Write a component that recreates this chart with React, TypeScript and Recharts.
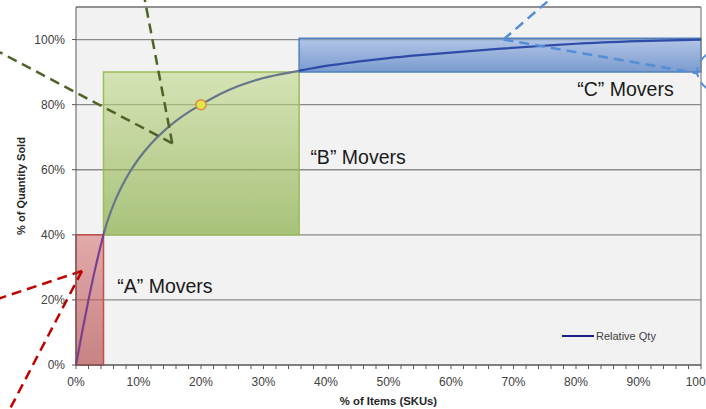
import React from "react";
import {
  ComposedChart,
  Line,
  XAxis,
  YAxis,
  CartesianGrid,
  ReferenceArea,
  ReferenceLine,
  ReferenceDot,
  Legend,
} from "recharts";

// ---- data -------------------------------------------------------------
const skuPct = [0, 1, 2, 3, 4, 4.4, 5, 6, 7, 8, 9, 10, 12, 14, 16, 18, 20, 23, 26, 30, 35.7, 40, 45, 50, 55, 60, 68, 75, 80, 90, 100];
const qtyPct = [0, 10.3, 20, 29, 37, 40, 44, 49.3, 53.6, 57.3, 60.5, 63.3, 68, 71.8, 75, 77.7, 80, 83.2, 85.7, 88.2, 90.4, 91.9, 93.2, 94.3, 95.2, 96, 97.2, 98.1, 98.7, 99.5, 100];

const xTicks = [0, 2, 4, 6, 8, 10, 12, 14, 16, 18, 20, 22, 24, 26, 28, 30, 32, 34, 36, 38, 40, 42, 44, 46, 48, 50, 52, 54, 56, 58, 60, 62, 64, 66, 68, 70, 72, 74, 76, 78, 80, 82, 84, 86, 88, 90, 92, 94, 96, 98, 100];
const yTicks = [0, 20, 40, 60, 80, 100];

const bandNames = ["A", "B", "C"];
const bandX1 = [0, 4.4, 35.7];
const bandX2 = [4.4, 35.7, 100];
const bandY1 = [0, 40, 90];
const bandY2 = [40, 90, 100.4];
const bandLabelX = [6.6, 37.5, 80.2];
const bandLabelY = [22.2, 61.9, 82.6];

const highlightX = 20;
const highlightY = 80;

// dashed callout lines (tip first, then the far end)
const calloutTipX = [15.4, 15.4, 0.96, 0.96, 68.4, 68.4];
const calloutTipY = [68.1, 68.1, 28.9, 28.9, 100.0, 100.0];
const calloutEndX = [-12.2, 11.0, -12.2, -10.6, 75.8, 99.4];
const calloutEndY = [96.1, 112.3, 20.5, -13.6, 112.3, 89.6];
const calloutColor = ["#4F6228", "#4F6228", "#C00000", "#C00000", "#558ED5", "#558ED5"];
const calloutOval = [false, false, false, false, false, true];

const seriesName = "Relative Qty";

const data = skuPct.map((x, i) => ({ sku: x, qty: qtyPct[i] }));

const FONT = "Arial, 'Liberation Sans', Helvetica, sans-serif";

const bandFill = ["url(#gA)", "url(#gB)", "url(#gC)"];
const bandStroke = ["#C0504D", "#9BBB59", "#4F81BD"];

const YLabel = (props: any) => {
  const vb = props.viewBox || {};
  const cx = 21;
  const cy = vb.y + vb.height / 2;
  return (
    <text
      x={cx}
      y={cy}
      transform={`rotate(-90 ${cx} ${cy})`}
      textAnchor="middle"
      dominantBaseline="central"
      fontFamily={FONT}
      fontSize={11}
      fontWeight="bold"
      fill="#262626"
    >
      % of Quantity Sold
    </text>
  );
};

const XLabel = (props: any) => {
  const vb = props.viewBox || {};
  const cx = vb.x + vb.width / 2;
  return (
    <text x={cx} y={405} textAnchor="middle" fontFamily={FONT} fontSize={11.3} fontWeight="bold" fill="#262626">
      % of Items (SKUs)
    </text>
  );
};

const LegendContent = () => (
  <div style={{ display: "flex", alignItems: "center", fontFamily: FONT, fontSize: 11, color: "#404040" }}>
    <span style={{ display: "inline-block", width: 32, height: 2, background: "#1F1F8A", marginRight: 2 }} />
    <span>{seriesName}</span>
  </div>
);

const makeCalloutShape = (color: string, oval: boolean) => (p: any) => (
  <g>
    <line
      x1={p.x1}
      y1={p.y1}
      x2={p.x2}
      y2={p.y2}
      stroke={color}
      strokeWidth={2.5}
      strokeDasharray="10 6"
      fill="none"
    />
    {oval ? (
      <ellipse
        cx={p.x2 + 46}
        cy={p.y2 - 2}
        rx={46}
        ry={28}
        fill="none"
        stroke={color}
        strokeWidth={2}
        strokeDasharray="10 6"
      />
    ) : null}
  </g>
);

export default function App() {
  return (
    <div style={{ position: "absolute", left: 0, top: 0, width: 706, height: 409, background: "#fff" }}>
      <ComposedChart width={706} height={409} data={data} margin={{ top: 7, right: 5, bottom: 0, left: 0 }}>
        <defs>
          <linearGradient id="gA" x1="0" y1="0" x2="0" y2="1">
            <stop offset="0%" stopColor="#D77A7A" />
            <stop offset="100%" stopColor="#AC3838" />
          </linearGradient>
          <linearGradient id="gB" x1="0" y1="0" x2="0" y2="1">
            <stop offset="0%" stopColor="#C2D98C" />
            <stop offset="100%" stopColor="#77A22A" />
          </linearGradient>
          <linearGradient id="gC" x1="0" y1="0" x2="0" y2="1">
            <stop offset="0%" stopColor="#89A8DE" />
            <stop offset="100%" stopColor="#2A61B8" />
          </linearGradient>
          <linearGradient id="lineGrad" x1="0" y1="0" x2="1" y2="0">
            <stop offset="0" stopColor="#7B3F8F" />
            <stop offset="0.044" stopColor="#7B3F8F" />
            <stop offset="0.044" stopColor="#66768A" />
            <stop offset="0.357" stopColor="#66768A" />
            <stop offset="0.357" stopColor="#2E4BA8" />
            <stop offset="1" stopColor="#2E4BA8" />
          </linearGradient>
        </defs>
        <CartesianGrid vertical={false} stroke="#8A8A8A" strokeWidth={1.3} fill="#F2F2F2" />
        <XAxis
          dataKey="sku"
          type="number"
          domain={[0, 100]}
          ticks={xTicks}
          interval={0}
          tickFormatter={(v: number) => (v % 10 === 0 ? `${v}%` : "")}
          tick={{ fontFamily: FONT, fontSize: 12, fill: "#404040" }}
          tickSize={4}
          tickMargin={8.5}
          stroke="#595959"
          height={44}
          label={<XLabel />}
        />
        <YAxis
          type="number"
          domain={[0, 110]}
          ticks={yTicks}
          interval={0}
          tickFormatter={(v: number) => `${v}%`}
          tick={{ fontFamily: FONT, fontSize: 12, fill: "#404040" }}
          tickSize={4}
          tickMargin={7}
          stroke="#595959"
          width={76}
          label={<YLabel />}
        />
        <ReferenceLine y={110} stroke="#8A8A8A" strokeWidth={1.3} />
        <ReferenceLine x={100} stroke="#8A8A8A" strokeWidth={1.3} />
        {bandNames.map((n, i) => (
          <ReferenceArea
            key={n}
            x1={bandX1[i]}
            x2={bandX2[i]}
            y1={bandY1[i]}
            y2={bandY2[i]}
            fill={bandFill[i]}
            fillOpacity={0.6}
            stroke={bandStroke[i]}
            strokeWidth={1.5}
            strokeOpacity={1}
            ifOverflow="visible"
          />
        ))}
        <Line
          dataKey="qty"
          name={seriesName}
          type="monotone"
          stroke="url(#lineGrad)"
          strokeWidth={2.2}
          dot={false}
          activeDot={false}
          isAnimationActive={false}
        />
        <ReferenceDot
          x={highlightX}
          y={highlightY}
          r={5}
          fill="#DCE84A"
          stroke="#E08A4A"
          strokeWidth={1.5}
        />
        {bandNames.map((n, i) => (
          <ReferenceDot
            key={"lbl" + n}
            x={bandLabelX[i]}
            y={bandLabelY[i]}
            r={0}
            ifOverflow="visible"
            shape={(p: any) => (
              <text x={p.cx} y={p.cy} fontFamily={FONT} fontSize={19.5} fill="#1A1A1A" textAnchor="start">
                {`\u201C${n}\u201D Movers`}
              </text>
            )}
          />
        ))}
        {calloutTipX.map((tx, i) => (
          <ReferenceLine
            key={"c" + i}
            segment={[
              { x: tx, y: calloutTipY[i] },
              { x: calloutEndX[i], y: calloutEndY[i] },
            ]}
            ifOverflow="visible"
            stroke={calloutColor[i]}
            strokeWidth={2.5}
            shape={makeCalloutShape(calloutColor[i], calloutOval[i])}
          />
        ))}
        <Legend
          layout="horizontal"
          verticalAlign="middle"
          align="center"
          content={<LegendContent />}
          wrapperStyle={{ left: 562, top: 330, width: 140, height: 16 }}
        />
      </ComposedChart>
    </div>
  );
}
